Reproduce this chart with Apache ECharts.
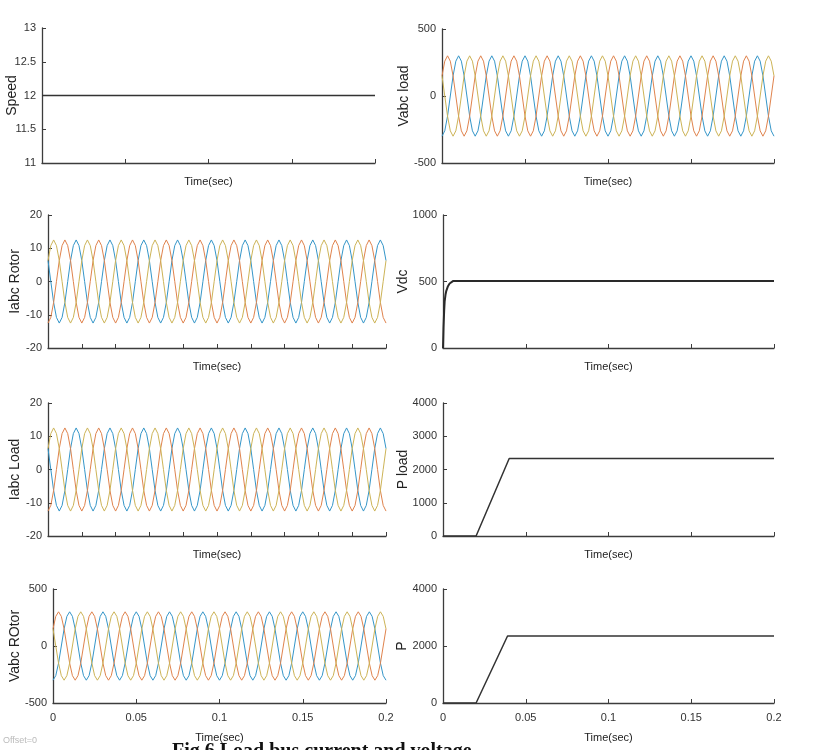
<!DOCTYPE html>
<html><head><meta charset="utf-8">
<script src="https://cdn.jsdelivr.net/npm/echarts@6/dist/echarts.min.js"></script>
<style>html,body{margin:0;padding:0;background:#fff}#c{width:814px;height:750px}</style>
</head><body><div id="c"></div>
<script>
// ---------- data ----------
const xTickLabels = ['0', '0.05', '0.1', '0.15', '0.2'];
const speedTime = [0, 0.2];
const speedValues = [12, 12];

const vdcTime = [0, 0.0003, 0.0007, 0.001, 0.0015, 0.002, 0.003, 0.004, 0.005, 0.006, 0.2];
const vdcValues = [0, 150, 280, 350, 400, 430, 465, 485, 497, 503, 503];

const pLoadTime = [0, 0.02, 0.04, 0.2];
const pLoadValues = [0, 0, 2330, 2330];

const pTime = [0, 0.02, 0.039, 0.2];
const pValues = [0, 0, 2350, 2350];

// three-phase waveforms sampled every 1/12 of a 20 ms period (0 .. 0.2 s)
const waveStep = 0.02 / 12;
const vabcBlue = [
-300,-260,-150,0,150,260,300,260,150,0,-150,-260,
-300,-260,-150,0,150,260,300,260,150,0,-150,-260,
-300,-260,-150,0,150,260,300,260,150,0,-150,-260,
-300,-260,-150,0,150,260,300,260,150,0,-150,-260,
-300,-260,-150,0,150,260,300,260,150,0,-150,-260,
-300,-260,-150,0,150,260,300,260,150,0,-150,-260,
-300,-260,-150,0,150,260,300,260,150,0,-150,-260,
-300,-260,-150,0,150,260,300,260,150,0,-150,-260,
-300,-260,-150,0,150,260,300,260,150,0,-150,-260,
-300,-260,-150,0,150,260,300,260,150,0,-150,-260,
-300];
const vabcOrange = [
150,260,300,260,150,0,-150,-260,-300,-260,-150,0,
150,260,300,260,150,0,-150,-260,-300,-260,-150,0,
150,260,300,260,150,0,-150,-260,-300,-260,-150,0,
150,260,300,260,150,0,-150,-260,-300,-260,-150,0,
150,260,300,260,150,0,-150,-260,-300,-260,-150,0,
150,260,300,260,150,0,-150,-260,-300,-260,-150,0,
150,260,300,260,150,0,-150,-260,-300,-260,-150,0,
150,260,300,260,150,0,-150,-260,-300,-260,-150,0,
150,260,300,260,150,0,-150,-260,-300,-260,-150,0,
150,260,300,260,150,0,-150,-260,-300,-260,-150,0,
150];
const vabcYellow = [
150,0,-150,-260,-300,-260,-150,0,150,260,300,260,
150,0,-150,-260,-300,-260,-150,0,150,260,300,260,
150,0,-150,-260,-300,-260,-150,0,150,260,300,260,
150,0,-150,-260,-300,-260,-150,0,150,260,300,260,
150,0,-150,-260,-300,-260,-150,0,150,260,300,260,
150,0,-150,-260,-300,-260,-150,0,150,260,300,260,
150,0,-150,-260,-300,-260,-150,0,150,260,300,260,
150,0,-150,-260,-300,-260,-150,0,150,260,300,260,
150,0,-150,-260,-300,-260,-150,0,150,260,300,260,
150,0,-150,-260,-300,-260,-150,0,150,260,300,260,
150];
const iabcBlue = [
6.3,0,-6.3,-10.8,-12.5,-10.8,-6.3,0,6.3,10.8,12.5,10.8,
6.3,0,-6.3,-10.8,-12.5,-10.8,-6.3,0,6.3,10.8,12.5,10.8,
6.3,0,-6.3,-10.8,-12.5,-10.8,-6.3,0,6.3,10.8,12.5,10.8,
6.3,0,-6.3,-10.8,-12.5,-10.8,-6.3,0,6.3,10.8,12.5,10.8,
6.3,0,-6.3,-10.8,-12.5,-10.8,-6.3,0,6.3,10.8,12.5,10.8,
6.3,0,-6.3,-10.8,-12.5,-10.8,-6.3,0,6.3,10.8,12.5,10.8,
6.3,0,-6.3,-10.8,-12.5,-10.8,-6.3,0,6.3,10.8,12.5,10.8,
6.3,0,-6.3,-10.8,-12.5,-10.8,-6.3,0,6.3,10.8,12.5,10.8,
6.3,0,-6.3,-10.8,-12.5,-10.8,-6.3,0,6.3,10.8,12.5,10.8,
6.3,0,-6.3,-10.8,-12.5,-10.8,-6.3,0,6.3,10.8,12.5,10.8,
6.3];
const iabcOrange = [
-12.5,-10.8,-6.3,0,6.3,10.8,12.5,10.8,6.3,0,-6.3,-10.8,
-12.5,-10.8,-6.3,0,6.3,10.8,12.5,10.8,6.3,0,-6.3,-10.8,
-12.5,-10.8,-6.3,0,6.3,10.8,12.5,10.8,6.3,0,-6.3,-10.8,
-12.5,-10.8,-6.3,0,6.3,10.8,12.5,10.8,6.3,0,-6.3,-10.8,
-12.5,-10.8,-6.3,0,6.3,10.8,12.5,10.8,6.3,0,-6.3,-10.8,
-12.5,-10.8,-6.3,0,6.3,10.8,12.5,10.8,6.3,0,-6.3,-10.8,
-12.5,-10.8,-6.3,0,6.3,10.8,12.5,10.8,6.3,0,-6.3,-10.8,
-12.5,-10.8,-6.3,0,6.3,10.8,12.5,10.8,6.3,0,-6.3,-10.8,
-12.5,-10.8,-6.3,0,6.3,10.8,12.5,10.8,6.3,0,-6.3,-10.8,
-12.5,-10.8,-6.3,0,6.3,10.8,12.5,10.8,6.3,0,-6.3,-10.8,
-12.5];
const iabcYellow = [
6.3,10.8,12.5,10.8,6.3,0,-6.3,-10.8,-12.5,-10.8,-6.3,0,
6.3,10.8,12.5,10.8,6.3,0,-6.3,-10.8,-12.5,-10.8,-6.3,0,
6.3,10.8,12.5,10.8,6.3,0,-6.3,-10.8,-12.5,-10.8,-6.3,0,
6.3,10.8,12.5,10.8,6.3,0,-6.3,-10.8,-12.5,-10.8,-6.3,0,
6.3,10.8,12.5,10.8,6.3,0,-6.3,-10.8,-12.5,-10.8,-6.3,0,
6.3,10.8,12.5,10.8,6.3,0,-6.3,-10.8,-12.5,-10.8,-6.3,0,
6.3,10.8,12.5,10.8,6.3,0,-6.3,-10.8,-12.5,-10.8,-6.3,0,
6.3,10.8,12.5,10.8,6.3,0,-6.3,-10.8,-12.5,-10.8,-6.3,0,
6.3,10.8,12.5,10.8,6.3,0,-6.3,-10.8,-12.5,-10.8,-6.3,0,
6.3,10.8,12.5,10.8,6.3,0,-6.3,-10.8,-12.5,-10.8,-6.3,0,
6.3];

// ---------- layout / style ----------
const sans = "'Liberation Sans',Arial,sans-serif";
const axisCol = '#3c3c3c';
const phaseCol = {blue: '#3596c9', orange: '#e0834d', yellow: '#cdb457'};

const panels = [
  {name: 'Speed',      grid: [42, 28, 333, 135],  y: [11, 13, 0.5],     xInt: 0.05, labels: false, gap: 23},
  {name: 'Vabc load',  grid: [442, 29, 332, 134], y: [-500, 500, 500],  xInt: 0.05, labels: false, gap: 31},
  {name: 'Iabc Rotor', grid: [48, 215, 338, 133], y: [-20, 20, 10],     xInt: 0.02, labels: false, gap: 26},
  {name: 'Vdc',        grid: [443, 215, 331, 133],y: [0, 1000, 500],    xInt: 0.05, labels: false, gap: 33},
  {name: 'Iabc Load',  grid: [48, 403, 338, 133], y: [-20, 20, 10],     xInt: 0.02, labels: false, gap: 26},
  {name: 'P load',     grid: [443, 403, 331, 133],y: [0, 4000, 1000],   xInt: 0.05, labels: false, gap: 33},
  {name: 'Vabc ROtor', grid: [53, 589, 333, 114], y: [-500, 500, 500],  xInt: 0.05, labels: true,  gap: 31},
  {name: 'P',          grid: [443, 589, 331, 114],y: [0, 4000, 2000],   xInt: 0.05, labels: true,  gap: 34}
];

const pairs = (t, v) => v.map((val, i) => [t[i], val]);
const wave = v => v.map((val, k) => [k * waveStep, val]);

const grids = [], xAxes = [], yAxes = [];
panels.forEach((p, i) => {
  grids.push({left: p.grid[0], top: p.grid[1], width: p.grid[2], height: p.grid[3],
    containLabel: false, outerBoundsMode: 'none'});
  xAxes.push({
    type: 'value', gridIndex: i, min: 0, max: 0.2, interval: p.xInt,
    name: 'Time(sec)', nameLocation: 'middle', nameGap: p.labels ? 29 : 13, nameMoveOverlap: false,
    nameTextStyle: {fontFamily: sans, fontSize: 11, color: '#222'},
    axisLine: {show: true, onZero: false, lineStyle: {color: axisCol, width: 1.3}},
    axisTick: {show: true, inside: true, length: 4, lineStyle: {color: axisCol}},
    axisLabel: {show: p.labels, margin: 9, fontFamily: sans, fontSize: 11, color: '#333',
      formatter: v => xTickLabels[Math.round(v / 0.05)] || ''},
    splitLine: {show: false}
  });
  yAxes.push({
    type: 'value', gridIndex: i, min: p.y[0], max: p.y[1], interval: p.y[2],
    name: p.name, nameLocation: 'middle', nameGap: p.gap, nameMoveOverlap: false,
    nameTextStyle: {fontFamily: sans, fontSize: 14, color: '#222'},
    axisLine: {show: true, onZero: false, lineStyle: {color: axisCol, width: 1.3}},
    axisTick: {show: true, inside: true, length: 4, lineStyle: {color: axisCol}},
    axisLabel: {margin: 6, fontFamily: sans, fontSize: 11, color: '#333', formatter: v => String(v)},
    splitLine: {show: false}
  });
});

const line = (idx, data, color, width) => ({
  type: 'line', xAxisIndex: idx, yAxisIndex: idx, data, showSymbol: false,
  lineStyle: {color, width}, silent: true, animation: false, z: 2
});

const series = [
  line(0, pairs(speedTime, speedValues), '#333', 1.5),
  line(1, wave(vabcBlue), phaseCol.blue, 1),
  line(1, wave(vabcOrange), phaseCol.orange, 1),
  line(1, wave(vabcYellow), phaseCol.yellow, 1),
  line(2, wave(iabcBlue), phaseCol.blue, 1),
  line(2, wave(iabcOrange), phaseCol.orange, 1),
  line(2, wave(iabcYellow), phaseCol.yellow, 1),
  line(3, pairs(vdcTime, vdcValues), '#2a2a2a', 2),
  line(4, wave(iabcBlue), phaseCol.blue, 1),
  line(4, wave(iabcOrange), phaseCol.orange, 1),
  line(4, wave(iabcYellow), phaseCol.yellow, 1),
  line(5, pairs(pLoadTime, pLoadValues), '#333', 1.5),
  line(6, wave(vabcBlue), phaseCol.blue, 1),
  line(6, wave(vabcOrange), phaseCol.orange, 1),
  line(6, wave(vabcYellow), phaseCol.yellow, 1),
  line(7, pairs(pTime, pValues), '#333', 1.5)
];

const chart = echarts.init(document.getElementById('c'), null, {renderer: 'canvas'});
chart.setOption({
  backgroundColor: '#fff',
  animation: false,
  grid: grids, xAxis: xAxes, yAxis: yAxes, series,
  graphic: [
    {type: 'text', left: 3, top: 736, style: {text: 'Offset=0', fontSize: 9, fill: '#bbb', fontFamily: sans}},
    {type: 'text', left: 172, top: 742, style: {text: 'Fig.6 Load bus current and voltage', fontSize: 20, fontWeight: 'bold', fill: '#111', fontFamily: "'Liberation Serif','DejaVu Serif',serif"}}
  ]
});
</script></body></html>
